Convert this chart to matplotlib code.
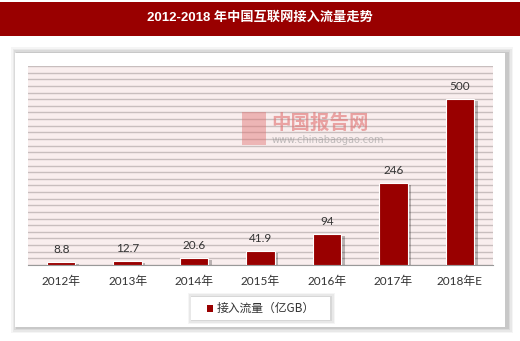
import matplotlib
matplotlib.use("Agg")
import matplotlib.pyplot as plt
from matplotlib.patches import Rectangle
import matplotlib.patheffects as pe

categories = ["2012年", "2013年", "2014年", "2015年", "2016年", "2017年", "2018年E"]
values = [8.8, 12.7, 20.6, 41.9, 94, 246, 500]
labels = ["8.8", "12.7", "20.6", "41.9", "94", "246", "500"]
title = "2012-2018 年中国互联网接入流量走势"
series_name = "接入流量（亿GB）"

W, H = 520, 341
fig = plt.figure(figsize=(W / 100, H / 100), dpi=100)
fig.patch.set_facecolor("white")

def fx(x):
    return x / W

def fy(y):
    return 1 - y / H

# title bar
fig.patches.append(Rectangle((0, fy(36)), 1, (36 - 2) / H, transform=fig.transFigure,
                             facecolor="#990000", edgecolor="none", zorder=-2))
fig.text(0.5, fy(18), title, color="white", ha="center", va="center", fontsize=9.5,
         fontweight="bold", family=["Liberation Sans", "Noto Sans CJK SC"])

# panel shadow + panel
for i, a in enumerate([0.04, 0.05, 0.06, 0.08]):
    d = 6 - i * 1.5
    fig.patches.append(Rectangle((fx(15 - d + 2), fy(327 + d)), (490 + 2 * d) / W, (274 + 2 * d) / H,
                                 transform=fig.transFigure, facecolor="black", alpha=a,
                                 edgecolor="none", zorder=-2))
fig.patches.append(Rectangle((fx(15), fy(327)), 490 / W, 274 / H, transform=fig.transFigure,
                             facecolor="white", edgecolor="none", zorder=-1))

ax = fig.add_axes([fx(28), fy(265), 465 / W, (265 - 66) / H])
ax.set_zorder(2)
ax.set_facecolor("#f9eeee")
ax.set_xlim(-0.5, len(categories) - 0.5)
ax.set_ylim(0, 600)
ax.set_yticks(range(0, 601, 20))
ax.yaxis.grid(True, color="#c8bebe", lw=1.0)
ax.set_axisbelow(True)
ax.tick_params(axis="y", left=False, labelleft=False)
ax.tick_params(axis="x", length=0, pad=8)
for s in ["top", "right", "left"]:
    ax.spines[s].set_visible(False)
ax.spines["bottom"].set_color("#999999")

x = list(range(len(categories)))
bars = ax.bar(x, values, width=0.43, color="#990000", edgecolor="white", linewidth=0.8, zorder=3)
for b in bars:
    b.set_path_effects([pe.SimplePatchShadow(offset=(2.5, -1.5), shadow_rgbFace="black", alpha=0.25),
                        pe.Normal()])
ax.set_xticks(x)
ax.set_xticklabels(categories, fontsize=8.5, color="#333333", family=["Lato", "Noto Sans CJK SC"])

for xi, v, lab in zip(x, values, labels):
    ax.annotate(lab, (xi, v), xytext=(0, 5), textcoords="offset points", ha="center", va="bottom",
                fontsize=8.5, color="#333333", family=["Lato", "Noto Sans CJK SC"])

# watermark
wm1 = fig.text(fx(271), fy(123), "中国报告网", color="#e07070", alpha=0.6, fontsize=14, fontweight="bold",
               ha="left", va="center", family=["Noto Sans CJK SC"])
wm2 = fig.text(fx(272), fy(140), "www.chinabaogao.com", color="#999999", alpha=0.6, fontsize=7,
               ha="left", va="center", family=["DejaVu Sans"])
wm1.set_zorder(10)
wm2.set_zorder(10)
fig.patches.append(Rectangle((fx(242), fy(145)), 24 / W, 33 / H, transform=fig.transFigure,
                             facecolor="#e07070", alpha=0.45, edgecolor="none", zorder=10))

# legend box
for i, a in enumerate([0.04, 0.05, 0.07]):
    d = 4 - i * 1.3
    fig.patches.append(Rectangle((fx(191 - d + 1), fy(320 + d)), (139 + 2 * d) / W, (23 + 2 * d) / H,
                                 transform=fig.transFigure, facecolor="black", alpha=a,
                                 edgecolor="none", zorder=3))
fig.patches.append(Rectangle((fx(191), fy(320)), 139 / W, 23 / H, transform=fig.transFigure,
                             facecolor="white", edgecolor="none", zorder=4))
fig.patches.append(Rectangle((fx(207), fy(312)), 6 / W, 7 / H, transform=fig.transFigure,
                             facecolor="#990000", edgecolor="none", zorder=5))
lt = fig.text(fx(217), fy(308.5), series_name, fontsize=8.5, color="#333333", ha="left", va="center",
              family=["Noto Sans CJK SC", "Lato"])
lt.set_zorder(6)

fig.savefig("out.png", dpi=100)
